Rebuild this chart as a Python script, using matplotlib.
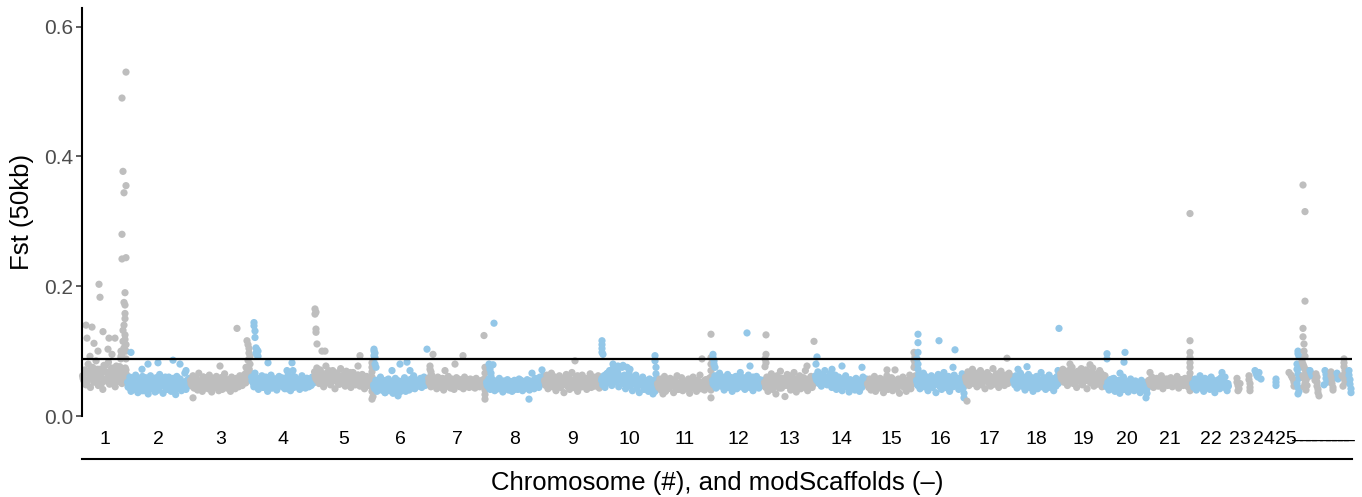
import matplotlib
matplotlib.use('Agg')
import matplotlib.pyplot as plt
from matplotlib.lines import Line2D
import matplotlib.transforms as mtransforms

plt.rcParams['font.family'] = ['Liberation Sans', 'DejaVu Sans']

# ---------------- data ----------------
# chromosome labels and sizes (relative genomic length units)
chrom_labels = [str(i) for i in range(1, 26)]
chrom_size = [45, 63, 61, 63, 59, 55, 58, 58, 57, 56, 55, 52, 51, 52, 49, 49,
              48, 47, 46, 42, 44, 37, 22, 26, 18]
scaffold_size = [6, 8, 4, 9, 7, 6, 5, 7, 5]
scaffold_label = '\u2013'
threshold = 0.0875

# Fst values in thousandths: evenly spaced 50kb windows along each chromosome
chr1_bg = [62, 55, 71, 48, 66, 80, 58, 44, 69, 75, 52, 63, 85, 57, 47, 72, 60, 66, 41, 78,
           54, 68, 59, 83, 49, 64, 73, 56, 61, 45, 77, 53, 70, 62, 88, 50, 67, 58, 74, 64]
chr2_bg = [52, 44, 60, 38, 48, 55, 41, 63, 47, 36, 58, 50, 43, 61, 39, 53, 46, 57, 34, 49,
           62, 42, 55, 45, 37, 59, 51, 40, 64, 47, 54, 35, 58, 44, 50, 41, 60, 48, 38, 56,
           46, 53, 33, 61, 43, 49, 57, 39, 52, 45, 66, 41, 55, 47, 58]
chr3_bg = [55, 48, 62, 43, 51, 58, 40, 66, 47, 53, 38, 60, 45, 56, 50, 42, 63, 49, 37, 57,
           52, 44, 61, 46, 39, 54, 59, 41, 50, 65, 47, 43, 56, 52, 38, 60, 48, 55, 42, 58,
           50, 45, 62, 53, 47, 57, 64, 51, 68, 58, 72, 66]
chr4_bg = [60, 52, 45, 66, 48, 55, 41, 58, 50, 62, 44, 53, 47, 59, 38, 56, 49, 63, 43, 51,
           57, 46, 40, 54, 61, 48, 52, 45, 58, 42, 55, 50, 64, 47, 39, 57, 53, 44, 60, 49,
           46, 56, 41, 52, 62, 48, 54, 43, 58, 50, 45, 55, 47, 60, 51]
chr5_bg = [68, 58, 74, 62, 50, 71, 55, 65, 45, 60, 77, 52, 67, 58, 48, 63, 70, 54, 42, 61,
           66, 57, 49, 73, 59, 53, 64, 46, 69, 56, 62, 51, 44, 60, 67, 55, 48, 58, 63, 52,
           46, 57, 64, 50, 42, 55, 61, 47, 53, 59, 45, 52]
chr6_bg = [48, 42, 55, 38, 51, 45, 60, 40, 47, 53, 36, 50, 44, 57, 39, 48, 52, 35, 46, 58,
           41, 49, 54, 37, 45, 51, 43, 59, 38, 47, 53, 40, 56, 44, 50, 62, 42, 48, 55, 46,
           52, 58, 44, 50, 60, 47, 56, 53]
chr7_bg = [58, 50, 45, 62, 52, 47, 56, 42, 60, 49, 53, 44, 58, 40, 51, 55, 46, 61, 48, 43,
           57, 50, 41, 54, 59, 47, 52, 45, 56, 49, 42, 60, 53, 46, 51, 44, 57, 48, 55, 50,
           43, 58, 47, 52, 45, 54, 49, 56, 51, 46]
chr8_bg = [52, 46, 57, 41, 50, 44, 55, 39, 48, 53, 42, 58, 45, 50, 37, 54, 47, 43, 56, 40,
           49, 52, 38, 46, 55, 44, 50, 41, 57, 47, 53, 39, 45, 51, 43, 56, 48, 40, 54, 46,
           50, 42, 58, 47, 53, 44, 60, 49, 55, 62]
chr9_bg = [55, 47, 63, 42, 58, 50, 66, 45, 53, 60, 39, 56, 48, 62, 44, 51, 57, 36, 54, 64,
           46, 59, 41, 52, 67, 49, 55, 43, 61, 38, 57, 50, 45, 63, 53, 47, 58, 41, 55, 49,
           65, 44, 52, 60, 46, 56, 50, 62, 43, 54]
chr10_bg = [55, 48, 62, 44, 58, 66, 51, 70, 60, 47, 73, 56, 64, 52, 68, 45, 61, 57, 75, 50,
            63, 42, 58, 54, 66, 47, 60, 39, 55, 51, 63, 44, 57, 36, 52, 48, 60, 41, 55, 46,
            50, 38, 57, 44, 52, 34, 49, 56, 47]
chr11_bg = [50, 44, 57, 40, 53, 47, 61, 38, 55, 49, 43, 58, 46, 52, 36, 56, 48, 62, 41, 51,
            45, 59, 39, 54, 47, 50, 42, 57, 35, 53, 48, 60, 44, 51, 38, 55, 46, 63, 42, 49,
            53, 40, 56, 45, 50, 58, 47, 52]
chr12_bg = [55, 48, 62, 43, 58, 51, 66, 46, 53, 60, 40, 57, 49, 64, 44, 52, 59, 38, 55, 47,
            61, 42, 56, 50, 67, 45, 53, 59, 41, 57, 48, 63, 44, 51, 55, 39, 58, 46, 61, 50,
            43, 56, 52, 47, 54]
chr13_bg = [52, 44, 60, 38, 55, 48, 65, 41, 57, 50, 34, 62, 46, 53, 69, 43, 58, 49, 30, 55,
            64, 47, 52, 40, 59, 45, 67, 51, 37, 56, 48, 62, 42, 54, 58, 46, 70, 50, 39, 57,
            53, 61, 44, 49, 55]
chr14_bg = [62, 55, 68, 50, 59, 46, 64, 53, 70, 57, 48, 61, 52, 66, 44, 58, 50, 63, 41, 55,
            60, 47, 53, 39, 57, 49, 62, 45, 52, 37, 56, 48, 43, 54, 40, 58, 46, 51, 38, 55,
            44, 60, 49, 53, 57]
chr15_bg = [50, 44, 57, 40, 53, 47, 61, 38, 55, 49, 43, 58, 46, 52, 36, 56, 48, 62, 41, 51,
            45, 59, 39, 54, 47, 50, 42, 57, 35, 53, 48, 60, 44, 51, 38, 55, 46, 63, 42, 49,
            53, 58, 62]
chr16_bg = [55, 47, 63, 42, 58, 50, 66, 45, 53, 60, 39, 56, 48, 62, 44, 51, 57, 36, 54, 64,
            46, 59, 41, 52, 67, 49, 55, 43, 61, 38, 57, 50, 45, 63, 53, 47, 58, 41, 55, 49,
            65, 44, 52]
chr17_bg = [60, 52, 68, 47, 63, 55, 72, 50, 58, 66, 45, 61, 53, 70, 48, 57, 64, 42, 59, 67,
            51, 62, 46, 56, 73, 49, 60, 54, 65, 44, 58, 69, 52, 61, 47, 63, 55, 50, 66, 57,
            53, 60]
chr18_bg = [55, 48, 62, 43, 58, 51, 66, 46, 53, 60, 40, 57, 49, 64, 44, 52, 59, 38, 55, 47,
            61, 42, 56, 50, 67, 45, 53, 59, 41, 57, 48, 63, 44, 51, 55, 39, 58, 46, 61, 50, 54]
chr19_bg = [65, 57, 72, 52, 68, 60, 47, 70, 55, 63, 75, 50, 66, 58, 44, 69, 61, 53, 73, 48,
            64, 56, 71, 42, 59, 67, 51, 62, 74, 46, 57, 65, 49, 60, 70, 54, 45, 63, 58, 52]
chr20_bg = [45, 52, 40, 56, 48, 43, 58, 38, 50, 46, 55, 35, 49, 44, 60, 41, 53, 47, 37, 51,
            57, 43, 48, 39, 54, 46, 42, 50, 36, 55, 45, 49, 40, 52, 44]
chr21_bg = [55, 48, 60, 44, 52, 58, 46, 50, 62, 42, 53, 57, 47, 51, 59, 45, 54, 49, 61, 43,
            56, 50, 47, 58, 52, 45, 60, 53]
chr22_bg = [50, 44, 57, 40, 55, 47, 62, 43, 52, 38, 58, 46, 53, 49, 41, 60, 45, 54, 36, 51,
            48, 56, 42, 59, 47, 53, 44, 50, 39, 46]

# second pass of windows (core of each chromosome's distribution), Fst x1000
chr1_bg2 = [58, 70, 52, 66, 75, 61, 55, 72, 64, 50, 68, 78, 57, 63, 74, 53, 69, 60, 76, 56, 65, 71]
chr2_bg2 = [45, 52, 40, 57, 48, 43, 55, 39, 50, 59, 46, 42, 54, 49, 38, 56, 44, 51, 47, 60,
            41, 53, 45, 58, 40, 50, 55, 43, 48, 52, 46, 57]
chr3_bg2 = [50, 45, 57, 42, 53, 48, 60, 44, 55, 49, 43, 58, 51, 46, 54, 47, 61, 52, 44, 56,
            49, 53, 45, 58, 50, 55, 60, 54, 62, 58]
chr4_bg2 = [54, 48, 58, 44, 51, 56, 46, 60, 50, 43, 55, 49, 57, 45, 52, 59, 47, 53, 42, 56,
            50, 61, 46, 54, 48, 57, 44, 52, 58, 49, 55, 51]
chr5_bg2 = [62, 55, 68, 58, 51, 65, 60, 70, 53, 63, 57, 66, 49, 61, 56, 64, 52, 59, 67, 54,
            60, 50, 63, 57, 53, 61, 48, 58, 55, 52]
chr6_bg2 = [45, 50, 41, 53, 47, 43, 55, 48, 40, 52, 46, 56, 44, 49, 42, 54, 47, 51, 45, 57,
            43, 50, 48, 53, 46, 55, 50, 52]
chr7_bg2 = [52, 47, 56, 50, 45, 54, 49, 57, 46, 53, 51, 44, 55, 48, 58, 50, 46, 53, 49, 56,
            47, 52, 45, 55, 50, 54, 48, 51, 53]
chr8_bg2 = [48, 44, 52, 46, 50, 42, 54, 47, 45, 51, 43, 49, 53, 46, 41, 50, 48, 55, 44, 52,
            47, 43, 50, 46, 54, 49, 51, 56, 52]
chr9_bg2 = [52, 58, 47, 55, 61, 50, 44, 57, 53, 48, 60, 51, 46, 56, 54, 49, 62, 52, 45, 58,
            50, 55, 47, 59, 53, 49, 56, 51]
chr10_bg2 = [58, 52, 64, 56, 68, 60, 54, 66, 58, 62, 55, 50, 60, 53, 57, 49, 55, 51, 47, 54,
             50, 45, 52, 48, 56, 46, 51, 49]
chr11_bg2 = [47, 52, 44, 50, 55, 42, 48, 53, 46, 51, 41, 49, 54, 45, 50, 47, 56, 43, 52, 48,
             45, 51, 49, 54, 46, 50, 48]
chr12_bg2 = [50, 55, 46, 58, 52, 48, 56, 44, 53, 59, 50, 47, 54, 51, 57, 45, 52, 49, 55, 48,
             60, 51, 46, 53, 50, 55]
chr13_bg2 = [50, 56, 45, 53, 60, 48, 55, 43, 58, 51, 47, 54, 62, 49, 52, 57, 46, 55, 50, 59,
             44, 53, 48, 56, 51]
chr14_bg2 = [58, 54, 62, 56, 60, 52, 57, 55, 50, 58, 53, 49, 55, 51, 56, 48, 53, 50, 46, 52,
             48, 54, 47, 51, 49, 53]
chr15_bg2 = [48, 53, 45, 51, 56, 47, 50, 44, 54, 49, 46, 52, 57, 48, 43, 51, 55, 47, 50, 53,
             46, 52, 55, 57]
chr16_bg2 = [52, 57, 48, 55, 61, 50, 46, 54, 59, 51, 56, 47, 53, 60, 49, 55, 45, 52, 58, 50,
             54, 48, 56, 51]
chr17_bg2 = [56, 61, 52, 59, 65, 54, 58, 62, 50, 57, 63, 55, 60, 53, 58, 64, 51, 57, 61, 55,
             59, 53, 62, 57]
chr18_bg2 = [52, 57, 47, 55, 50, 58, 45, 53, 56, 49, 54, 59, 48, 52, 57, 46, 55, 51, 58, 50,
             53, 49, 56]
chr19_bg2 = [60, 66, 55, 63, 69, 58, 64, 52, 61, 67, 57, 62, 54, 65, 59, 68, 56, 63, 60, 53,
             66, 58, 62]
chr20_bg2 = [46, 50, 42, 52, 47, 44, 54, 49, 41, 51, 45, 53, 48, 43, 50, 46, 52, 44, 49, 47]
chr21_bg2 = [52, 49, 55, 47, 53, 51, 57, 48, 54, 50, 56, 52, 49, 55]
chr22_bg2 = [50, 46, 54, 48, 52, 44, 56, 49, 51, 47, 55, 45, 53, 50, 48, 52, 46, 50]

# additional windows at given positions (position from chromosome start, Fst x1000)
chr1_extra = [(4, 140), (10, 137), (21, 130), (17, 203), (18, 183), (27, 120), (33, 120),
              (26, 103), (16, 100), (5, 120), (8, 92), (30, 95), (12, 112),
              (44, 530), (40, 490), (41, 377), (44, 355), (42, 344), (40, 280), (40, 242),
              (44, 244), (43, 190), (42, 175), (43, 171), (43, 158), (43, 150), (42, 140),
              (41, 132), (43, 125), (43, 118), (44, 110), (44, 100), (40, 95), (39, 92),
              (44, 88), (42, 105), (41, 115), (39, 100)]
chr2_extra = [(4, 98), (21, 80), (31, 82), (46, 86), (53, 80), (59, 70), (15, 72)]
chr3_extra = [(3, 28), (30, 77), (47, 135), (57, 116), (58, 110), (59, 104), (59, 97),
              (60, 92), (58, 86), (60, 80), (56, 75)]
chr4_extra = [(3, 144), (3, 139), (4, 131), (4, 121), (5, 105), (6, 102), (7, 100), (5, 97),
              (6, 94), (7, 92), (17, 82), (41, 82), (36, 70), (42, 70)]
chr5_extra = [(1, 165), (2, 160), (1, 157), (2, 134), (2, 129), (3, 111), (8, 100), (11, 100),
              (46, 93), (44, 77), (58, 82), (58, 75), (58, 68), (58, 60), (59, 52), (58, 45),
              (58, 38), (59, 30), (58, 26)]
chr6_extra = [(1, 103), (1, 100), (2, 97), (1, 93), (2, 90), (2, 80), (3, 75), (19, 70),
              (27, 80), (34, 83), (37, 70), (12, 36), (25, 31), (54, 103)]
chr7_extra = [(5, 95), (2, 77), (2, 72), (3, 68), (3, 63), (4, 59), (27, 80), (35, 93),
              (17, 70), (56, 124), (57, 75), (57, 66), (57, 57), (56, 48), (57, 40), (57, 33),
              (57, 26)]
chr8_extra = [(3, 80), (4, 76), (4, 72), (5, 66), (5, 61), (6, 55), (5, 48), (6, 42), (8, 143),
              (7, 79), (43, 26), (56, 71), (46, 66)]
chr9_extra = [(31, 85)]
chr10_extra = [(1, 116), (1, 110), (1, 104), (1, 98), (2, 95), (12, 80), (17, 77), (22, 78),
               (26, 75), (29, 72), (54, 93), (54, 85), (55, 75), (55, 65), (55, 55), (55, 45),
               (54, 38)]
chr11_extra = [(6, 34), (45, 88), (54, 126), (54, 90), (54, 80), (54, 70), (54, 60), (54, 50),
               (54, 40), (54, 28)]
chr12_extra = [(1, 95), (1, 90), (2, 85), (2, 80), (3, 75), (35, 128), (38, 77)]
chr13_extra = [(2, 125), (2, 95), (1, 88), (2, 82), (1, 76), (50, 115), (43, 77)]
chr14_extra = [(2, 91), (17, 72), (27, 77), (47, 75), (1, 80)]
chr15_extra = [(20, 71), (28, 71), (47, 98), (48, 92), (47, 86), (48, 80), (47, 75)]
chr16_extra = [(2, 126), (2, 113), (2, 98), (1, 88), (2, 80), (2, 72), (3, 65), (23, 116),
               (39, 102), (37, 75), (47, 59), (48, 50), (47, 43), (48, 35), (48, 28)]
chr17_extra = [(2, 23), (42, 89)]
chr18_extra = [(5, 72), (14, 76), (46, 135), (45, 70)]
chr19_extra = [(10, 80), (30, 79)]
chr20_extra = [(1, 96), (1, 88), (19, 98), (18, 83), (6, 57), (14, 66), (40, 50), (41, 42),
               (41, 35), (40, 28)]
chr21_extra = [(2, 67), (42, 312), (42, 116), (42, 98), (42, 90), (42, 82), (42, 75), (42, 66),
               (42, 58), (43, 50), (42, 43), (42, 39)]
chr22_extra = [(30, 67), (33, 60)]
chr23_extra = [(8, 58), (8, 52), (9, 47), (10, 42), (9, 39), (11, 50), (20, 62), (20, 56),
               (21, 50), (21, 44), (21, 39)]
chr24_extra = [(4, 70), (5, 66), (6, 62), (7, 60), (8, 67), (10, 57), (25, 57), (25, 52),
               (25, 47)]
chr25_extra = [(12, 67), (14, 63), (15, 60), (16, 57), (17, 52), (17, 46)]

# modScaffolds (position from scaffold start, Fst x1000)
scaf1 = [(3, 100), (3, 96), (4, 92), (2, 80), (2, 72), (3, 65), (4, 58), (2, 50), (3, 44),
         (4, 38), (3, 34), (5, 62), (5, 75)]
scaf2 = [(2, 356), (4, 315), (4, 177), (2, 135), (2, 122), (3, 111), (3, 100), (4, 92),
         (1, 85), (2, 80), (3, 76), (4, 72), (5, 68), (6, 64), (2, 62), (3, 58), (5, 55),
         (4, 50), (6, 47), (7, 60), (7, 70), (3, 45), (5, 40)]
scaf3 = [(1, 70), (2, 66), (3, 62)]
scaf4 = [(3, 65), (3, 58), (4, 52), (4, 46), (5, 41), (5, 36), (6, 31), (4, 60), (2, 55)]
scaf5 = [(3, 70), (4, 64), (4, 58), (5, 52), (2, 48)]
scaf6 = [(2, 68), (2, 62), (3, 56), (3, 50), (4, 44), (4, 40), (3, 60)]
scaf7 = [(2, 66), (3, 62), (3, 57)]
scaf8 = [(4, 88), (4, 82), (4, 76), (5, 70), (5, 64), (4, 58), (5, 52), (3, 46), (2, 62)]
scaf9 = [(2, 70), (2, 63), (3, 56), (3, 49), (4, 42), (4, 36)]

# ---------------- assemble ----------------
chrom_bg = [chr1_bg, chr2_bg, chr3_bg, chr4_bg, chr5_bg, chr6_bg, chr7_bg, chr8_bg, chr9_bg,
            chr10_bg, chr11_bg, chr12_bg, chr13_bg, chr14_bg, chr15_bg, chr16_bg, chr17_bg,
            chr18_bg, chr19_bg, chr20_bg, chr21_bg, chr22_bg, [], [], []]
chrom_bg2 = [chr1_bg2, chr2_bg2, chr3_bg2, chr4_bg2, chr5_bg2, chr6_bg2, chr7_bg2, chr8_bg2,
             chr9_bg2, chr10_bg2, chr11_bg2, chr12_bg2, chr13_bg2, chr14_bg2, chr15_bg2,
             chr16_bg2, chr17_bg2, chr18_bg2, chr19_bg2, chr20_bg2, chr21_bg2, chr22_bg2,
             [], [], []]
chrom_extra = [chr1_extra, chr2_extra, chr3_extra, chr4_extra, chr5_extra, chr6_extra,
               chr7_extra, chr8_extra, chr9_extra, chr10_extra, chr11_extra, chr12_extra,
               chr13_extra, chr14_extra, chr15_extra, chr16_extra, chr17_extra, chr18_extra,
               chr19_extra, chr20_extra, chr21_extra, chr22_extra, chr23_extra, chr24_extra,
               chr25_extra]
scaffolds = [scaf1, scaf2, scaf3, scaf4, scaf5, scaf6, scaf7, scaf8, scaf9]

units = []  # (label, size, [background lists], extra)
for lab, sz, bg, bg2, ex in zip(chrom_labels, chrom_size, chrom_bg, chrom_bg2, chrom_extra):
    units.append((lab, sz, [bg, bg2], ex))
for sz, ex in zip(scaffold_size, scaffolds):
    units.append((scaffold_label, sz, [], ex))

gray = '#BEBEBE'
blue = '#93C7E8'

W, H = 1362, 497
fig = plt.figure(figsize=(W / 100, H / 100), dpi=100)
total = sum(u[1] for u in units)
ax = fig.add_axes([82 / W, 1 - 416 / H, 1270 / W, (416 - 8.5) / H])

trans_strip = mtransforms.blended_transform_factory(ax.transData, fig.transFigure)
start = 0.0
for k, (lab, sz, bgs, ex) in enumerate(units):
    col = gray if k % 2 == 0 else blue
    xs, ys = [], []
    for bg in bgs:
        n = len(bg)
        for i, v in enumerate(bg):
            xs.append(start + (i + 0.5) * sz / n)
            ys.append(v / 1000)
    for p, v in ex:
        xs.append(start + p)
        ys.append(v / 1000)
    ax.scatter(xs, ys, s=27, color=col, edgecolors='none', zorder=2, clip_on=False)
    ax.text(start + sz / 2, 1 - 440 / H, lab, transform=trans_strip, ha='center',
            va='center', fontsize=14, color='black')
    start += sz

ax.axhline(threshold, color='black', lw=1.6, zorder=3)
ax.set_xlim(0, total)
ax.set_ylim(0, 0.628)
ax.set_xticks([])
ax.set_yticks([0.0, 0.2, 0.4, 0.6])
ax.set_yticklabels(['0.0', '0.2', '0.4', '0.6'])
for s in ['top', 'right', 'bottom']:
    ax.spines[s].set_visible(False)
ax.spines['left'].set_linewidth(1.5)
ax.spines['left'].set_color('black')
ax.tick_params(axis='y', length=4.3, width=1.1, color='#333333', labelsize=15,
               labelcolor='#4D4D4D', pad=2)

fig.add_artist(Line2D([82 / W, 1352 / W], [1 - 458.5 / H] * 2, transform=fig.transFigure,
                      color='black', lw=1.5))
fig.text(717 / W, 1 - 483 / H, 'Chromosome (#), and modScaffolds (\u2013)', ha='center',
         va='center', fontsize=18.5, color='black')
fig.text(22 / W, 1 - 212 / H, 'Fst (50kb)', rotation=90, ha='center', va='center',
         fontsize=18.5, color='black')

fig.savefig('out.png', dpi=100)
